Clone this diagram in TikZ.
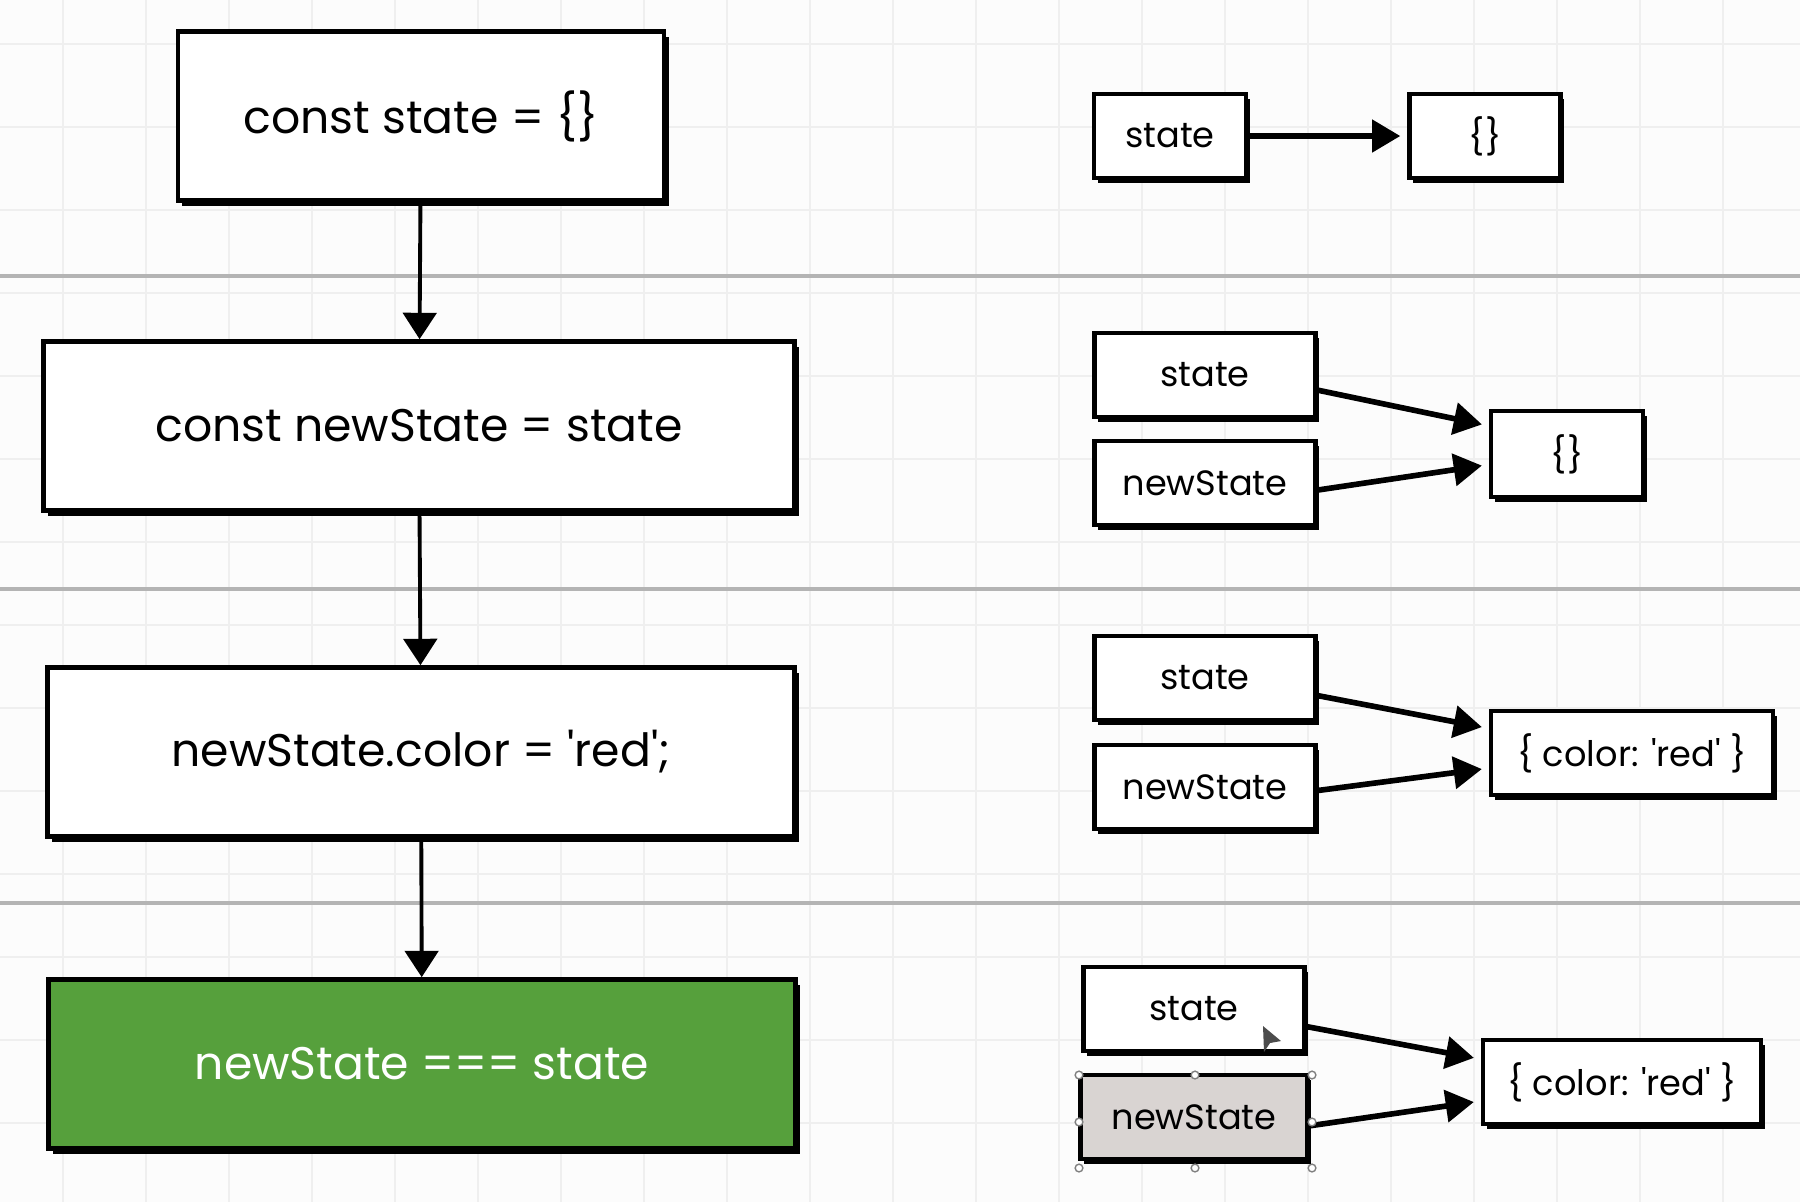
\documentclass[tikz,border=0pt]{standalone}
\usepackage{fontspec}
\setmainfont{Poppins}
\usetikzlibrary{arrows.meta,shadows}
\definecolor{paper}{HTML}{FCFCFC}
\definecolor{gridgray}{HTML}{EFEFEF}
\definecolor{sepgray}{HTML}{B4B4B4}
\definecolor{truegreen}{HTML}{56A03C}
\definecolor{selgray}{HTML}{D9D4D2}
\newcommand{\sq}{\textquotesingle}
\begin{document}
\begin{tikzpicture}[x=0.01cm,y=-0.01cm,
  codebox/.style={draw,line width=1.3pt,fill=white,minimum height=1.69cm,
    font=\fontsize{13}{15}\selectfont,
    drop shadow={shadow xshift=1.3pt,shadow yshift=-1.5pt,fill=black,opacity=1}},
  refbox/.style={draw,line width=1.2pt,fill=white,minimum height=0.84cm,
    font=\fontsize{10}{12}\selectfont,
    drop shadow={shadow xshift=1.1pt,shadow yshift=-1.3pt,fill=black,opacity=1}},
  flow/.style={-{Triangle[length=7.5pt,width=9.5pt]},line width=1.1pt},
  link/.style={-{Triangle[length=8pt,width=9pt]},line width=1.6pt,shorten >=2pt},
  handle/.style={draw=gray,fill=white,line width=0.4pt}]
\useasboundingbox[fill=paper] (0,0) rectangle (1800,1202);
% grid
\foreach \gx in {63,146,...,1800} \draw[gridgray] (\gx,0) -- (\gx,1202);
\foreach \gy in {44,127,...,1202} \draw[gridgray] (0,\gy) -- (1800,\gy);
\draw[sepgray,line width=1pt] (0,276) -- (1800,276);
\draw[sepgray,line width=1pt] (0,589) -- (1800,589);
\draw[sepgray,line width=1pt] (0,903) -- (1800,903);
% left column
\node [codebox,minimum width=4.86cm,name=b1] at (421,116) {const state = \{\}};
\node [codebox,minimum width=7.50cm,name=b2] at (419,426) {const newState = state};
\node [codebox,minimum width=7.46cm,name=b3] at (421,752) {newState.color = \sq red\sq;};
\node [codebox,minimum width=7.46cm,fill=truegreen,text=white,name=b4] at (422,1064) {newState === state};
\draw[flow] (b1) -- (b2);
\draw[flow] (b2) -- (b3);
\draw[flow] (b3) -- (b4);
% right column
\node [refbox,minimum width=1.52cm,name=s1] at (1170,136) {state};
\node [refbox,minimum width=1.51cm,name=o1] at (1485,136) {\{\}};
\draw[link] (s1) -- (o1);
\node [refbox,minimum width=2.21cm,name=s2] at (1205,375) {state};
\node [refbox,minimum width=2.21cm,name=n2] at (1205,483) {newState};
\node [refbox,minimum width=1.52cm,minimum height=0.86cm,name=o2] at (1567,454) {\{\}};
\draw[link] ([yshift=-4.3pt]s2.east) -- ([yshift=8pt]o2.west);
\draw[link] ([yshift=-2pt]n2.east) -- ([yshift=-3pt]o2.west);
\node [refbox,minimum width=2.21cm,name=s3] at (1205,678) {state};
\node [refbox,minimum width=2.21cm,name=n3] at (1205,787) {newState};
\node [refbox,minimum width=2.82cm,name=o3] at (1632,753) {\{ color: \sq red\sq{} \}};
\draw[link] ([yshift=-5pt]s3.east) -- ([yshift=7pt]o3.west);
\draw[link] ([yshift=-1pt]n3.east) -- ([yshift=-4.3pt]o3.west);
\node [refbox,minimum width=2.21cm,name=s4] at (1194,1009) {state};
\node [refbox,minimum width=2.27cm,fill=selgray,name=n4] at (1194,1117) {newState};
\node [refbox,minimum width=2.78cm,name=o4] at (1622,1082) {\{ color: \sq red\sq{} \}};
\draw[link] ([yshift=-5pt]s4.east) -- ([yshift=6.5pt]o4.west);
\draw[link] ([yshift=-2.5pt]n4.east) -- ([yshift=-5.4pt]o4.west);
% selection handles and pointer
\foreach \hx/\hy in {1079/1075,1195/1075,1312/1075,1079/1122,1312/1122,1079/1168,1195/1168,1312/1168}
  \draw[handle] (\hx,\hy) circle (1.1pt);
\fill[gray!60!black] (1263,1026) -- (1264,1052) -- (1270,1043) -- (1281,1041) -- cycle;
\end{tikzpicture}
\end{document}
